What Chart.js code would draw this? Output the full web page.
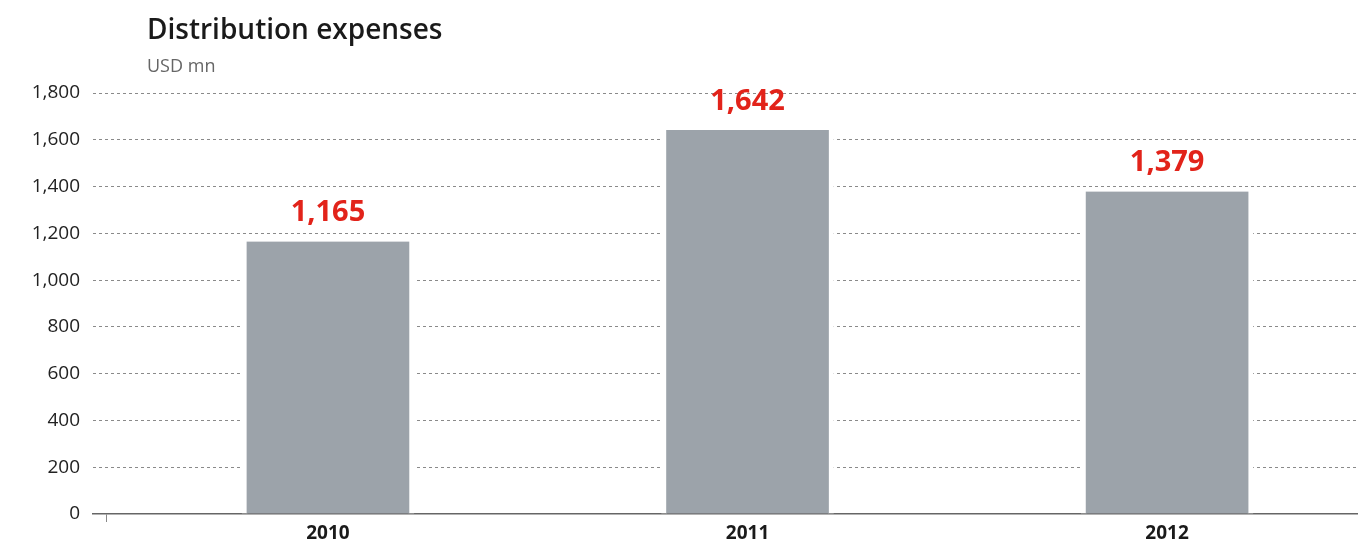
<!DOCTYPE html>
<html>
<head>
<meta charset="utf-8">
<script src="https://cdn.jsdelivr.net/npm/chart.js@4"></script>
<style>
  html, body { margin: 0; padding: 0; background: #fff; }
  #wrap { position: relative; width: 1358px; height: 540px; }
  #title { position: absolute; left: 147px; top: 9px; font: 600 28px "Open Sans", sans-serif; color: #1a1a1a; margin: 0; }
  #unit { position: absolute; left: 147px; top: 53px; font: 400 18px "Open Sans", sans-serif; color: #666; }
  canvas { position: absolute; left: 0; top: 0; }
</style>
</head>
<body>
<div id="wrap">
  <canvas id="c" width="1358" height="540"></canvas>
  <div id="title">Distribution expenses</div>
  <div id="unit">USD mn</div>
</div>
<script>
// Distribution expenses by year, USD mn
const years = ['2010', '2011', '2012'];
const expenses = [1165, 1642, 1379];
const yTicks = [0, 200, 400, 600, 800, 1000, 1200, 1400, 1600, 1800];

// Red value labels above each bar
const valueLabels = {
  id: 'valueLabels',
  afterDatasetsDraw(chart) {
    const ctx = chart.ctx;
    const meta = chart.getDatasetMeta(0);
    ctx.save();
    ctx.font = 'bold 29px "Open Sans", sans-serif';
    ctx.fillStyle = '#e2231a';
    ctx.textAlign = 'center';
    ctx.textBaseline = 'bottom';
    meta.data.forEach((bar, i) => {
      ctx.fillText(expenses[i].toLocaleString('en-US'), bar.x, bar.y - 14);
    });
    ctx.restore();
  }
};

new Chart(document.getElementById('c'), {
  type: 'bar',
  data: {
    datasets: [{
      data: expenses.map((v, i) => ({ x: i, y: v })),
      backgroundColor: '#9ca3aa',
      borderColor: '#ffffff',
      borderWidth: { left: 5, right: 5, top: 0, bottom: 0 },
      borderSkipped: false,
      barThickness: 172
    }]
  },
  options: {
    responsive: false,
    animation: false,
    layout: { padding: { top: 93, right: 0, left: 0, bottom: 0 } },
    plugins: { legend: { display: false }, tooltip: { enabled: false } },
    scales: {
      x: {
        type: 'linear',
        offset: false,
        min: -0.56,
        max: 2.455,
        afterBuildTicks(scale) {
          scale.ticks = [{ value: -0.529 }].concat(years.map((_, i) => ({ value: i })));
        },
        afterFit(scale) { scale.height = 26; },
        border: { display: true, color: '#666', width: 1.5 },
        grid: {
          offset: false,
          drawOnChartArea: false,
          tickLength: 8,
          tickColor: (c) => c.index === 0 ? '#888' : 'rgba(0,0,0,0)'
        },
        ticks: {
          padding: 0,
          autoSkip: false,
          maxRotation: 0,
          color: '#1a1a1a',
          font: { family: 'Open Sans', size: 19, weight: 'bold' },
          callback: (v) => years[v] !== undefined && Number.isInteger(v) ? years[v] : ''
        }
      },
      y: {
        min: 0,
        max: 1800,
        afterBuildTicks(scale) {
          scale.ticks = yTicks.map(v => ({ value: v }));
        },
        afterFit(scale) { scale.width = 93; },
        border: { display: false, dash: [3, 3] },
        grid: {
          color: (c) => c.tick && c.tick.value === 0 ? 'rgba(0,0,0,0)' : '#8a8a8a',
          lineWidth: 1,
          drawTicks: false
        },
        ticks: {
          padding: 13,
          color: '#222',
          font: { family: 'Open Sans', size: 19 },
          callback: (v) => v.toLocaleString('en-US')
        }
      }
    }
  },
  plugins: [valueLabels]
});
</script>
</body>
</html>
